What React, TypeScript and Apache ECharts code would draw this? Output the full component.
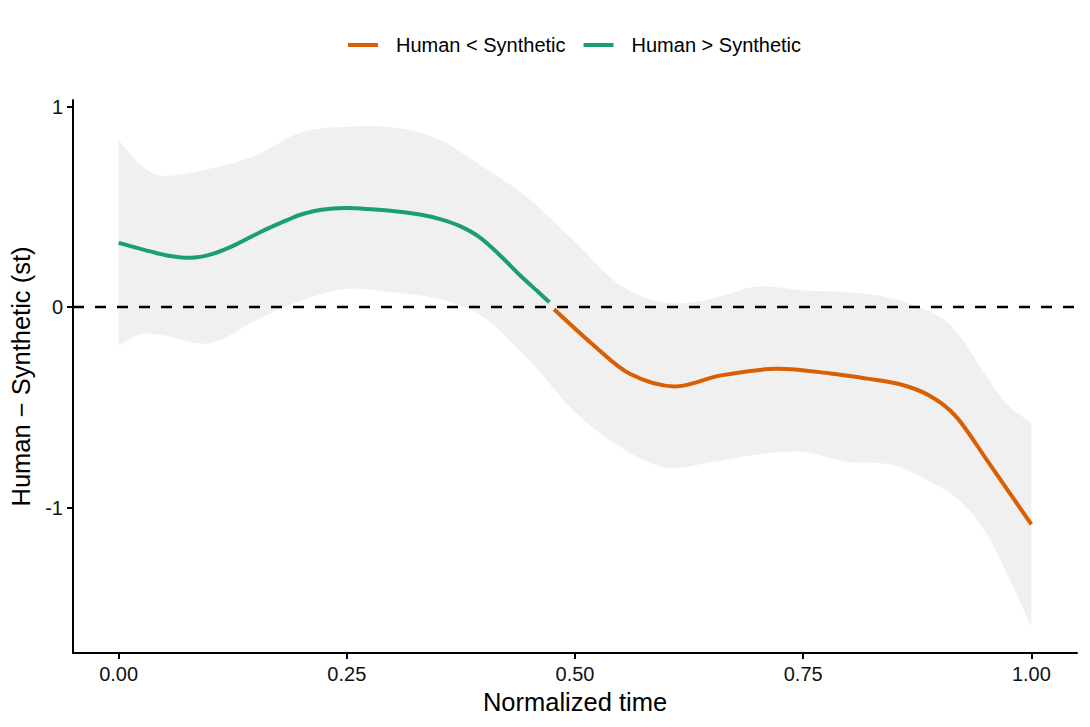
import React, { useEffect, useRef } from "react";
import * as echarts from "echarts";

// Confidence band (shared time grid)
const bandT = [0, 0.025, 0.05, 0.1, 0.15, 0.2, 0.25, 0.3, 0.35, 0.4, 0.45, 0.5, 0.55, 0.6, 0.65, 0.7, 0.75, 0.8, 0.85, 0.9, 0.925, 0.95, 0.975, 1.0];
const bandUpper = [0.834, 0.706, 0.655, 0.69, 0.756, 0.872, 0.9, 0.897, 0.839, 0.698, 0.54, 0.324, 0.108, 0.022, 0.042, 0.103, 0.083, 0.075, 0.042, -0.05, -0.166, -0.34, -0.49, -0.576];
const bandLower = [-0.191, -0.133, -0.141, -0.18, -0.066, 0.033, 0.092, 0.075, 0.042, -0.05, -0.266, -0.523, -0.698, -0.8, -0.772, -0.734, -0.722, -0.772, -0.789, -0.897, -0.98, -1.121, -1.345, -1.594];

// Fitted difference, positive part (Human > Synthetic)
const greenT = [0, 0.028, 0.053, 0.079, 0.101, 0.126, 0.155, 0.185, 0.2, 0.222, 0.25, 0.3, 0.33, 0.352, 0.374, 0.396, 0.418, 0.44, 0.458, 0.472];
const greenV = [0.321, 0.286, 0.258, 0.246, 0.263, 0.307, 0.374, 0.435, 0.462, 0.486, 0.495, 0.48, 0.462, 0.439, 0.404, 0.347, 0.258, 0.158, 0.083, 0.025];

// Fitted difference, negative part (Human < Synthetic)
const orangeT = [0.477, 0.52, 0.56, 0.609, 0.66, 0.72, 0.78, 0.82, 0.856, 0.888, 0.918, 0.954, 1.0];
const orangeV = [-0.01, -0.188, -0.332, -0.395, -0.34, -0.307, -0.33, -0.356, -0.384, -0.44, -0.548, -0.78, -1.083];

const xTicks = [0, 0.25, 0.5, 0.75, 1];
const yTicks = [-1, 0, 1];

const legendNames = ["Human < Synthetic", "Human > Synthetic"];
const FONT = "'Liberation Sans', Arial, Helvetica, sans-serif";

type P = number[];

function splineSegments(pts: P[]): string {
  let d = "";
  for (let i = 0; i < pts.length - 1; i++) {
    const p0 = pts[i - 1] || pts[i];
    const p1 = pts[i];
    const p2 = pts[i + 1];
    const p3 = pts[i + 2] || pts[i + 1];
    const c1x = p1[0] + (p2[0] - p0[0]) / 6;
    const c1y = p1[1] + (p2[1] - p0[1]) / 6;
    const c2x = p2[0] - (p3[0] - p1[0]) / 6;
    const c2y = p2[1] - (p3[1] - p1[1]) / 6;
    d += ` C${c1x},${c1y} ${c2x},${c2y} ${p2[0]},${p2[1]}`;
  }
  return d;
}

function curveSeries(name: string, ts: number[], vs: number[], color: string) {
  return {
    name,
    type: "custom",
    data: ts.map((t, i) => [t, vs[i]]),
    itemStyle: { color },
    silent: true,
    z: 3,
    renderItem: (params: any, api: any) => {
      if (params.dataIndex !== 0) return null;
      const pts = ts.map((t, i) => api.coord([t, vs[i]]));
      const d = `M${pts[0][0]},${pts[0][1]}` + splineSegments(pts);
      return {
        type: "path",
        shape: { pathData: d },
        style: { fill: "none", stroke: color, lineWidth: 4, lineCap: "butt", lineJoin: "round" },
      };
    },
  };
}

export default function App() {
  const ref = useRef<HTMLDivElement>(null);

  useEffect(() => {
    document.body.style.margin = "0";
    if (!ref.current) return;
    const chart = echarts.init(ref.current, null, { renderer: "svg" });

    const axisLine = { show: true, onZero: false, lineStyle: { color: "#000", width: 2 } };
    const axisTickBase = { show: true, length: 6, lineStyle: { color: "#000", width: 2 } };

    chart.setOption({
      animation: false,
      backgroundColor: "#fff",
      textStyle: { fontFamily: FONT },
      legend: {
        data: legendNames,
        left: 343,
        top: 30,
        icon: "rect",
        itemWidth: 30,
        itemHeight: 4,
        itemGap: 18,
        textStyle: { fontFamily: FONT, fontSize: 20, color: "#000", padding: [0, 0, 0, 13] },
      },
      grid: { left: 73, right: 13, top: 100, bottom: 74, containLabel: false, outerBoundsMode: "none" },
      xAxis: {
        type: "value",
        min: -0.05,
        max: 1.05,
        name: "Normalized time",
        nameLocation: "middle",
        nameGap: 35,
        nameTextStyle: { fontFamily: FONT, fontSize: 25.5, color: "#000" },
        axisLine,
        axisTick: { ...axisTickBase, customValues: xTicks },
        axisLabel: {
          customValues: xTicks,
          formatter: (v: number) => v.toFixed(2),
          fontFamily: FONT,
          fontSize: 20,
          color: "#111",
          margin: 11,
        },
        splitLine: { show: false },
      },
      yAxis: {
        type: "value",
        min: -1.724,
        max: 1.033,
        name: "Human \u2212 Synthetic (st)",
        nameLocation: "middle",
        nameGap: 38,
        nameRotate: 90,
        nameTextStyle: { fontFamily: FONT, fontSize: 25.5, color: "#000" },
        axisLine,
        axisTick: { ...axisTickBase, customValues: yTicks },
        axisLabel: {
          customValues: yTicks,
          formatter: (v: number) => String(v),
          fontFamily: FONT,
          fontSize: 20,
          color: "#111",
          margin: 10,
        },
        splitLine: { show: false },
      },
      series: [
        {
          name: "band",
          type: "custom",
          data: [[0, 0]],
          silent: true,
          z: 1,
          renderItem: (_params: any, api: any) => {
            const up = bandT.map((t, i) => api.coord([t, bandUpper[i]]));
            const lo = bandT.map((t, i) => api.coord([t, bandLower[i]])).reverse();
            let d = `M${up[0][0]},${up[0][1]}`;
            d += splineSegments(up);
            d += ` L${lo[0][0]},${lo[0][1]}`;
            d += splineSegments(lo);
            d += " Z";
            return {
              type: "path",
              shape: { pathData: d },
              style: { fill: "#f0f0f0", stroke: "none" },
            };
          },
        },
        {
          name: "zero",
          type: "line",
          data: [],
          silent: true,
          z: 2,
          markLine: {
            silent: true,
            symbol: "none",
            label: { show: false },
            lineStyle: { color: "#000", width: 2.4, type: [11, 11] },
            data: [{ yAxis: 0 }],
          },
        },
        curveSeries("Human > Synthetic", greenT, greenV, "#1b9e77"),
        curveSeries("Human < Synthetic", orangeT, orangeV, "#d95f02"),
      ],
    });

    return () => {
      chart.dispose();
    };
  }, []);

  return <div ref={ref} style={{ width: 1090, height: 727 }} />;
}
